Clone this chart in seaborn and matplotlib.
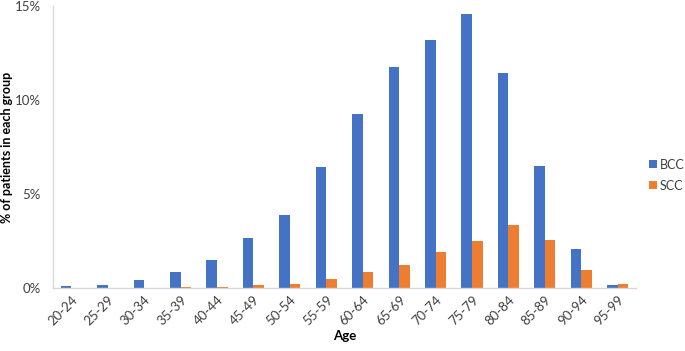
import matplotlib
matplotlib.use("Agg")
import matplotlib.pyplot as plt
import seaborn as sns
import pandas as pd
from matplotlib.ticker import FuncFormatter

ages = ["20-24", "25-29", "30-34", "35-39", "40-44", "45-49", "50-54", "55-59",
        "60-64", "65-69", "70-74", "75-79", "80-84", "85-89", "90-94", "95-99"]
bcc = [0.08, 0.15, 0.42, 0.85, 1.5, 2.68, 3.9, 6.44, 9.25, 11.75, 13.2, 14.6, 11.43, 6.5, 2.05, 0.16]
scc = [0.0, 0.0, 0.02, 0.06, 0.05, 0.15, 0.22, 0.48, 0.85, 1.2, 1.9, 2.5, 3.33, 2.55, 0.96, 0.21]

df = pd.DataFrame({
    "Age": ages * 2,
    "value": bcc + scc,
    "type": ["BCC"] * len(ages) + ["SCC"] * len(ages),
})

sns.set_style("white")
plt.rcParams["font.family"] = ["Lato", "DejaVu Sans"]

fig = plt.figure(figsize=(6.85, 3.51), dpi=100)
ax = fig.add_axes([53 / 685, 1 - 288 / 351, (636 - 53) / 685, (288 - 6) / 351])

sns.barplot(data=df, x="Age", y="value", hue="type", ax=ax,
            palette={"BCC": "#4472C4", "SCC": "#ED7D31"}, width=0.58,
            saturation=1, edgecolor="none")

ax.set_ylim(0, 15)
ax.set_xlim(-0.5, len(ages) - 0.5)
ax.set_yticks([0, 5, 10, 15])
ax.yaxis.set_major_formatter(FuncFormatter(lambda v, p: f"{v:.0f}%"))
ax.tick_params(axis="y", labelsize=9.5, colors="#404040", length=0, pad=9)
ax.tick_params(axis="x", labelsize=9.5, colors="#404040", length=0, pad=4)
for lab in ax.get_xticklabels():
    lab.set_rotation(45)
    lab.set_ha("right")
    lab.set_rotation_mode("anchor")

for s in ["top", "right"]:
    ax.spines[s].set_visible(False)
for s in ["left", "bottom"]:
    ax.spines[s].set_color("#D9D9D9")
    ax.spines[s].set_linewidth(1)

ax.set_xlabel("Age", fontsize=9.5, fontweight="bold", color="#000000", labelpad=2)
ax.set_ylabel("% of patients in each group", fontsize=9, fontweight="bold", color="#000000")
ax.yaxis.set_label_coords(-(53 - 13) / 583, 0.5)

leg = ax.legend(loc="center left", bbox_to_anchor=(1 + 13 / 583, 0.40), frameon=False,
                fontsize=9, handlelength=0.6, handleheight=0.6, handletextpad=0.25,
                labelspacing=0.7, borderpad=0, borderaxespad=0)
for t in leg.get_texts():
    t.set_color("#404040")

fig.savefig("out.png", dpi=100)
